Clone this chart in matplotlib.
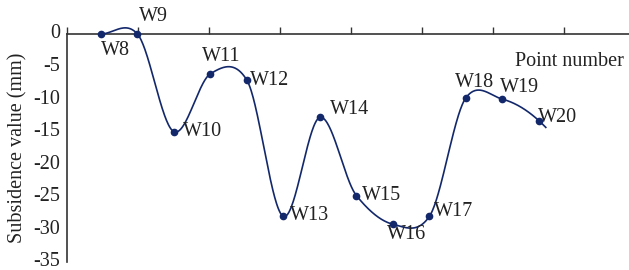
import numpy as np
import matplotlib
matplotlib.use("Agg")
import matplotlib.pyplot as plt

# ---- data ----
points = ["W8", "W9", "W10", "W11", "W12", "W13", "W14",
          "W15", "W16", "W17", "W18", "W19", "W20"]
subsidence = [0.0, 0.0, -15.0, -6.1, -7.1, -28.0, -12.8,
              -24.8, -29.2, -28.0, -9.8, -10.0, -13.3]
yticks = [0, -5, -10, -15, -20, -25, -30, -35]

# label offsets in pixels (dx, dy, ha, va)
label_style = {
    "W8": (0, -7, "left", "top"),
    "W9": (2, 8, "left", "bottom"),
    "W10": (9, 0, "left", "center"),
    "W11": (-8, 8, "left", "bottom"),
    "W12": (3, 0, "left", "center"),
    "W13": (7, 1, "left", "center"),
    "W14": (10, -2, "left", "bottom"),
    "W15": (6, 0, "left", "center"),
    "W16": (-6, -1, "left", "top"),
    "W17": (5, 5, "left", "center"),
    "W18": (-11, 6, "left", "bottom"),
    "W19": (-2, 2, "left", "bottom"),
    "W20": (-1, 3, "left", "center"),
}

font = ["Liberation Serif", "DejaVu Serif"]
plt.rcParams["font.family"] = font
color = "#13286b"
tcol = "#222222"
fs = 14.5

x = np.arange(1, len(points) + 1, dtype=float)
y = np.array(subsidence)

# Catmull-Rom style smooth curve (Excel-like smoothing)
tension = 0.85
n = len(x)
m = np.zeros(n)
m[1:-1] = tension * (y[2:] - y[:-2]) / 2.0
m[0] = 0.0
m[-1] = 2 * (y[-1] - y[-2]) - m[-2]
xs, ys = [], []
for i in range(n - 1):
    tmax = 1.19 if i == n - 2 else 1.0
    t = np.linspace(0, tmax, 60)
    h00 = 2 * t**3 - 3 * t**2 + 1
    h10 = t**3 - 2 * t**2 + t
    h01 = -2 * t**3 + 3 * t**2
    h11 = t**3 - t**2
    ys.append(h00 * y[i] + h10 * m[i] + h01 * y[i + 1] + h11 * m[i + 1])
    xs.append(x[i] + t)
xs = np.concatenate(xs)
ys = np.concatenate(ys)

fig = plt.figure(figsize=(6.29, 2.70), dpi=100)
ax = fig.add_axes([67 / 629, 8 / 270, 562 / 629, 228 / 270])
ax.set_xlim(0.07, 15.47)
ax.set_ylim(-35, 0)

ax.plot(xs, ys, color=color, lw=1.2, clip_on=False, zorder=3)
ax.plot(x, y, "o", color=color, ms=4.5, clip_on=False, zorder=4)

for xi, yi, name in zip(x, y, points):
    dx, dy, ha, va = label_style[name]
    ax.annotate(name, (xi, yi), xytext=(dx, dy), textcoords="offset pixels",
                ha=ha, va=va, fontsize=fs, color=tcol, family=font)

for s in ["bottom", "right"]:
    ax.spines[s].set_visible(False)
ax.spines["top"].set_linewidth(1.2)
ax.spines["left"].set_linewidth(1.2)
ax.spines["top"].set_color("#333333")
ax.spines["left"].set_color("#333333")

ax.xaxis.set_ticks_position("top")
ax.set_xticks(np.arange(0.07, 15.4, 1.945))
ax.tick_params(axis="x", direction="out", length=5, width=1.0,
               labeltop=False, labelbottom=False, color="#333333")
ax.set_yticks(yticks)
ax.set_yticklabels([str(v) for v in yticks])
ax.tick_params(axis="y", length=0, pad=5, labelsize=fs, labelcolor=tcol)
for lab in ax.get_yticklabels():
    lab.set_verticalalignment("center")

ax.set_ylabel("Subsidence value (mm)", fontsize=fs, color=tcol, labelpad=4)
ax.text(0.99, 0.92, "Point number", transform=ax.transAxes, ha="right",
        va="top", fontsize=fs, color=tcol)

fig.savefig("out.png", dpi=100)
